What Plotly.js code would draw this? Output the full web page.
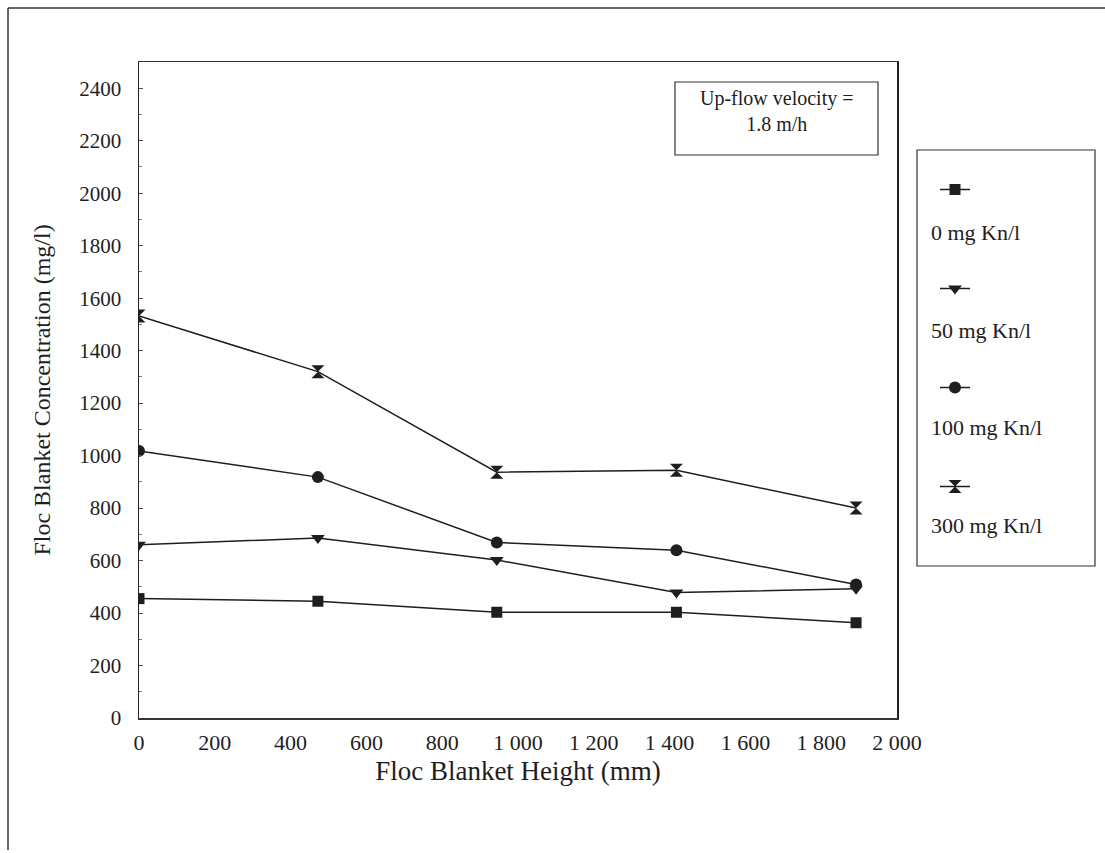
<!DOCTYPE html>
<html>
<head>
<meta charset="utf-8">
<script src="https://cdn.plot.ly/plotly-3.0.1.min.js"></script>
<style>html,body{margin:0;padding:0;background:#fff;}#chart{width:1105px;height:853px;}</style>
</head>
<body>
<div id="chart"></div>
<script>
// Data
var heights = [0, 472, 944, 1418, 1892];               // Floc blanket height (mm)
var kn0   = [455, 445, 403, 403, 363];                 // 0 mg Kn/l
var kn50  = [660, 686, 602, 478, 493];                 // 50 mg Kn/l
var kn100 = [1018, 918, 669, 639, 509];                // 100 mg Kn/l
var kn300 = [1532, 1320, 937, 944, 800];               // 300 mg Kn/l
var seriesNames = ['0 mg Kn/l', '50 mg Kn/l', '100 mg Kn/l', '300 mg Kn/l'];
var seriesValues = [kn0, kn50, kn100, kn300];
var symbols = ['square', 'triangle-down', 'circle', 'hourglass'];
var symbolSizes = [11, 12, 12, 13];
var noteText = 'Up-flow velocity =<br>1.8 m/h';
var xTitle = 'Floc Blanket Height (mm)';
var yTitle = 'Floc Blanket Concentration (mg/l)';

var FONT = '"Liberation Serif", "Times New Roman", serif';
var INK = '#1e1e1e';

// plot-area pixel geometry helpers (for annotations / frames only)
var L = 139, R = 208, T = 62, B = 135, W = 1105, H = 853;
var pw = W - L - R, ph = H - T - B;
function px(x) { return (x - L) / pw; }
function py(y) { return (H - B - y) / ph; }

var traces = seriesValues.map(function (vals, i) {
  return {
    type: 'scatter', mode: 'lines+markers',
    x: heights, y: vals, name: seriesNames[i],
    legendgroup: 'g' + i,
    line: {color: INK, width: 1.5},
    marker: {symbol: symbols[i], size: symbolSizes[i], color: INK, line: {width: 0}}
  };
});

var legendTextY = [233, 330, 427, 525];
var annotations = seriesNames.map(function (n, i) {
  return {xref: 'paper', yref: 'paper', x: px(929), y: py(legendTextY[i]),
    xanchor: 'left', yanchor: 'middle', text: n, showarrow: false,
    font: {family: FONT, size: 22, color: INK}};
});
annotations.push({xref: 'paper', yref: 'paper', x: px(776), y: py(111),
  xanchor: 'center', yanchor: 'middle', text: noteText, showarrow: false, align: 'center',
  font: {family: FONT, size: 20, color: INK}});

var shapes = [
  // legend frame
  {type: 'rect', xref: 'paper', yref: 'paper', x0: px(917), x1: px(1095), y0: py(566), y1: py(150),
    line: {color: '#333', width: 1.2}},
  // note frame
  {type: 'rect', xref: 'paper', yref: 'paper', x0: px(675), x1: px(878), y0: py(155), y1: py(82),
    line: {color: '#333', width: 1.2}},
  // outer figure frame (top and left edges visible)
  {type: 'line', xref: 'paper', yref: 'paper', x0: px(8), x1: px(1105), y0: py(8), y1: py(8),
    line: {color: '#333', width: 1.5}},
  {type: 'line', xref: 'paper', yref: 'paper', x0: px(8), x1: px(8), y0: py(8), y1: py(850),
    line: {color: '#333', width: 1.5}}
];

var layout = {
  width: W, height: H,
  margin: {l: L, r: R, t: T, b: B, pad: 0},
  paper_bgcolor: '#fff', plot_bgcolor: '#fff',
  separators: '. ',
  font: {family: FONT, color: INK},
  showlegend: true,
  legend: {
    x: px(935), xanchor: 'left', y: py(170), yanchor: 'top',
    bgcolor: 'rgba(0,0,0,0)', borderwidth: 0,
    tracegroupgap: 70, itemclick: false, itemdoubleclick: false,
    font: {family: FONT, size: 20, color: 'rgba(0,0,0,0)'}
  },
  xaxis: {
    range: [0, 2000], tick0: 0, dtick: 200, tickformat: ',d',
    showgrid: false, zeroline: false,
    showline: true, linecolor: '#333', linewidth: 1.5, mirror: true,
    ticks: '', tickfont: {family: FONT, size: 22, color: INK},
    ticklabelstandoff: 4,
    title: {text: xTitle, standoff: 7, font: {family: FONT, size: 27, color: INK}},
    automargin: false, fixedrange: true
  },
  yaxis: {
    range: [0, 2500], tick0: 0, dtick: 200, tickformat: 'd',
    showgrid: false, zeroline: false,
    showline: true, linecolor: '#222', linewidth: 1.5, mirror: true,
    ticks: 'inside', ticklen: 4, tickcolor: '#555', tickwidth: 1,
    minor: {dtick: 100, ticks: 'inside', ticklen: 3, tickcolor: '#777', tickwidth: 1},
    ticklabelstandoff: 12,
    tickfont: {family: FONT, size: 21, color: INK},
    title: {text: yTitle, standoff: 22, font: {family: FONT, size: 24, color: INK}},
    automargin: false, fixedrange: true
  },
  annotations: annotations,
  shapes: shapes
};

Plotly.newPlot('chart', traces, layout, {displayModeBar: false, staticPlot: true});
</script>
</body>
</html>
